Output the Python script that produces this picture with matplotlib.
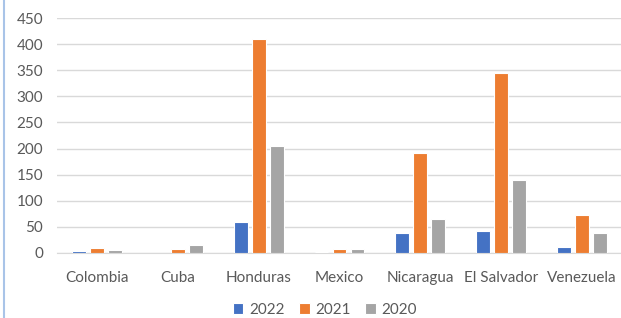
import numpy as np
import matplotlib
matplotlib.use("Agg")
import matplotlib.pyplot as plt
from matplotlib.lines import Line2D

countries = ["Colombia", "Cuba", "Honduras", "Mexico", "Nicaragua", "El Salvador", "Venezuela"]
years = ["2022", "2021", "2020"]
v2022 = [3, 0, 59, 1, 39, 42, 11]
v2021 = [10, 8, 410, 8, 191, 345, 73]
v2020 = [5, 15, 205, 7, 65, 139, 39]
colors = ["#4472C4", "#ED7D31", "#A5A5A5"]

plt.rcParams['font.family'] = ['Lato', 'DejaVu Sans']

fig = plt.figure(figsize=(6.21, 3.18), dpi=100)
ax = fig.add_axes([57 / 621, 1 - 253 / 318, 565 / 621, 235 / 318])

x = np.arange(len(countries))
w = 0.173
step = 0.223
for i, (vals, yr) in enumerate(zip([v2022, v2021, v2020], years)):
    ax.bar(x + (i - 1) * step, vals, width=w, color=colors[i], label=yr,
           edgecolor="white", linewidth=0.8, zorder=3)

ax.set_xlim(-0.5, len(countries) - 0.5)
ax.set_ylim(0, 450)
ax.set_yticks(range(0, 451, 50))
ax.set_xticks(x)
ax.set_xticklabels(countries)
ax.grid(axis="y", color="#D9D9D9", linewidth=1, zorder=0)
ax.set_axisbelow(True)
for s in ["top", "right", "left"]:
    ax.spines[s].set_visible(False)
ax.spines["bottom"].set_color("#D9D9D9")
ax.tick_params(axis="both", length=0, labelsize=11, colors="#595959")
ax.tick_params(axis="x", pad=13)
ax.tick_params(axis="y", pad=10)

leg = fig.legend(loc="center", bbox_to_anchor=(325 / 621, 1 - 310 / 318), ncol=3,
                 frameon=False, fontsize=11, handlelength=0.7, handleheight=0.7,
                 handletextpad=0.4, columnspacing=0.9, labelcolor="#595959")

# light blue border line at left edge
fig.add_artist(Line2D([3.5 / 621, 3.5 / 621], [0, 1], transform=fig.transFigure,
                      color="#A9C4E8", linewidth=1.5))

fig.savefig("out.png", dpi=100)
